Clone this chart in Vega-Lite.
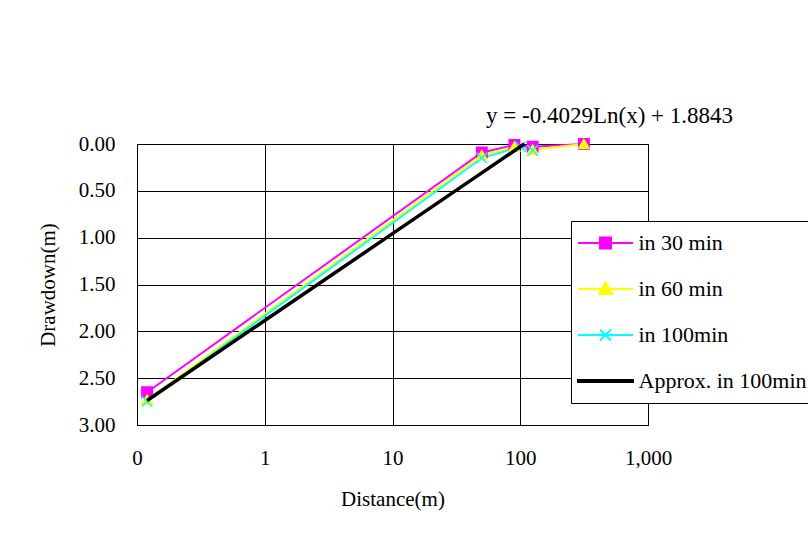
{
  "$schema": "https://vega.github.io/schema/vega-lite/v6.json",
  "width": 511,
  "height": 281,
  "autosize": {"type": "none"},
  "padding": {"left": 137, "top": 144, "right": 160, "bottom": 114},
  "background": "white",
  "config": {
    "font": "Liberation Serif",
    "view": {"stroke": "#808080", "strokeWidth": 1},
    "axis": {
      "labelFont": "Liberation Serif",
      "titleFont": "Liberation Serif",
      "labelFontSize": 21,
      "titleFontSize": 21,
      "labelColor": "black",
      "titleColor": "black",
      "titleFontWeight": "normal",
      "ticks": false,
      "labelFlush": false,
      "domainColor": "black",
      "gridColor": "black",
      "gridOpacity": 1,
      "gridWidth": 1
    },
    "legend": {
      "title": null,
      "orient": "none",
      "legendX": 434,
      "legendY": 77,
      "direction": "vertical",
      "fillColor": "white",
      "strokeColor": "black",
      "padding": 11,
      "cornerRadius": 0,
      "labelFont": "Liberation Serif",
      "labelFontSize": 22,
      "labelColor": "black",
      "labelLimit": 400,
      "symbolSize": 121,
      "symbolStrokeWidth": 2,
      "symbolOpacity": 1,
      "symbolOffset": 12.5,
      "labelOffset": 22,
      "rowPadding": 24
    }
  },
  "datasets": {
    "obs": [
      {"distance": 0.12, "drawdown": 2.65, "series": "in 30 min"},
      {"distance": 50, "drawdown": 0.09, "series": "in 30 min"},
      {"distance": 90, "drawdown": 0.01, "series": "in 30 min"},
      {"distance": 125, "drawdown": 0.03, "series": "in 30 min"},
      {"distance": 315, "drawdown": 0.0, "series": "in 30 min"},
      {"distance": 0.12, "drawdown": 2.73, "series": "in 60 min"},
      {"distance": 50, "drawdown": 0.12, "series": "in 60 min"},
      {"distance": 90, "drawdown": 0.03, "series": "in 60 min"},
      {"distance": 125, "drawdown": 0.06, "series": "in 60 min"},
      {"distance": 315, "drawdown": 0.0, "series": "in 60 min"},
      {"distance": 0.12, "drawdown": 2.75, "series": "in 100min"},
      {"distance": 50, "drawdown": 0.15, "series": "in 100min"},
      {"distance": 100, "drawdown": 0.03, "series": "in 100min"},
      {"distance": 125, "drawdown": 0.07, "series": "in 100min"}
    ],
    "approx": [
      {"distance": 0.12, "drawdown": 2.739, "series": "Approx. in 100min"},
      {"distance": 1, "drawdown": 1.884, "series": "Approx. in 100min"},
      {"distance": 10, "drawdown": 0.957, "series": "Approx. in 100min"},
      {"distance": 50, "drawdown": 0.308, "series": "Approx. in 100min"},
      {"distance": 107.4, "drawdown": 0.0, "series": "Approx. in 100min"}
    ],
    "eq": [
      {"distance": 500, "drawdown": -0.3, "text": "y = -0.4029Ln(x) + 1.8843"}
    ]
  },
  "encoding": {
    "x": {
      "field": "distance",
      "type": "quantitative",
      "scale": {"type": "log", "domain": [0.1, 1000], "nice": false},
      "axis": {
        "title": "Distance(m)",
        "values": [0.1, 1, 10, 100, 1000],
        "labelExpr": "datum.value < 0.5 ? '0' : format(datum.value, ',')",
        "labelPadding": 22,
        "titlePadding": 20,
        "grid": true
      }
    },
    "y": {
      "field": "drawdown",
      "type": "quantitative",
      "scale": {"domain": [0, 3], "reverse": true, "nice": false, "zero": false},
      "axis": {
        "title": "Drawdown(m)",
        "values": [0, 0.5, 1, 1.5, 2, 2.5, 3],
        "format": ".2f",
        "labelPadding": 22,
        "titlePadding": 20,
        "grid": true
      }
    }
  },
  "resolve": {"scale": {"color": "independent", "stroke": "independent", "shape": "independent"}},
  "layer": [
    {
      "data": {"name": "obs"},
      "mark": {"type": "line", "strokeWidth": 2},
      "encoding": {
        "color": {
          "field": "series",
          "type": "nominal",
          "scale": {"domain": ["in 30 min", "in 60 min", "in 100min"], "range": ["#FF00FF", "#FFFF00", "#00FFFF"]},
          "legend": null
        }
      }
    },
    {
      "data": {"name": "obs"},
      "mark": {"type": "point", "filled": true, "strokeWidth": 1.5, "opacity": 1},
      "encoding": {
        "color": {
          "field": "series",
          "type": "nominal",
          "scale": {"domain": ["in 30 min", "in 60 min", "in 100min"], "range": ["#FF00FF", "#FFFF00", "#00FFFF"]},
          "legend": null
        },
        "stroke": {
          "field": "series",
          "type": "nominal",
          "scale": {"domain": ["in 30 min", "in 60 min", "in 100min"], "range": ["#FF00FF", "#FFFF00", "#00FFFF"]},
          "legend": null
        },
        "shape": {
          "field": "series",
          "type": "nominal",
          "scale": {"domain": ["in 30 min", "in 60 min", "in 100min"], "range": ["square", "triangle-up", "M-1,-1L1,1M-1,1L1,-1"]},
          "legend": null
        },
        "size": {"value": 110}
      }
    },
    {
      "data": {"name": "approx"},
      "mark": {"type": "line", "strokeWidth": 3.5},
      "encoding": {
        "color": {
          "field": "series",
          "type": "nominal",
          "scale": {"domain": ["Approx. in 100min"], "range": ["#000000"]},
          "legend": null
        }
      }
    },
    {
      "data": {"name": "approx"},
      "mark": {"type": "point", "filled": true, "opacity": 0},
      "encoding": {
        "color": {
          "field": "series",
          "type": "nominal",
          "scale": {"domain": ["in 30 min", "in 60 min", "in 100min", "Approx. in 100min"], "range": ["#FF00FF", "#FFFF00", "#00FFFF", "#000000"]}
        },
        "stroke": {
          "field": "series",
          "type": "nominal",
          "scale": {"domain": ["in 30 min", "in 60 min", "in 100min", "Approx. in 100min"], "range": ["#FF00FF", "#FFFF00", "#00FFFF", "#000000"]}
        },
        "shape": {
          "field": "series",
          "type": "nominal",
          "scale": {"domain": ["in 30 min", "in 60 min", "in 100min", "Approx. in 100min"], "range": ["M-5,0H5M-1,-1H1V1H-1Z", "M-5,0H5M0,-1.2L1.2,0.9H-1.2Z", "M-5,0H5M-1,-1L1,1M-1,1L1,-1", "M-5,-0.18H5V0.18H-5Z"]}
        }
      }
    },
    {
      "data": {"name": "eq"},
      "mark": {"type": "text", "font": "Liberation Serif", "fontSize": 23, "color": "black", "baseline": "middle", "align": "center"},
      "encoding": {
        "text": {"field": "text", "type": "nominal"}
      }
    }
  ]
}
